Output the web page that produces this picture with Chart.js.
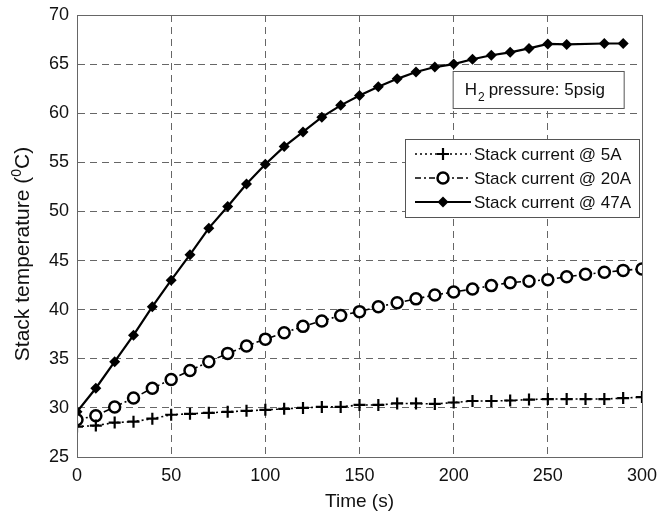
<!DOCTYPE html>
<html>
<head>
<meta charset="utf-8">
<script src="https://cdn.jsdelivr.net/npm/chart.js@4/dist/chart.umd.min.js"></script>
<style>
html, body { margin: 0; padding: 0; background: #fff; }
</style>
</head>
<body>
<canvas id="chart" width="659" height="513"></canvas>
<script>
// time (s) and stack temperature (deg C)
const time5A = [0,10,20,30,40,50,60,70,80,90,100,110,120,130,140,150,160,170,180,190,200,210,220,230,240,250,260,270,280,290,300];
const temp5A = [28.1,28.2,28.5,28.6,28.9,29.3,29.4,29.5,29.6,29.7,29.8,29.9,30.0,30.1,30.1,30.3,30.3,30.45,30.45,30.4,30.55,30.7,30.7,30.75,30.85,30.9,30.9,30.9,30.9,31.0,31.1];

const time20A = [0,10,20,30,40,50,60,70,80,90,100,110,120,130,140,150,160,170,180,190,200,210,220,230,240,250,260,270,280,290,300];
const temp20A = [28.8,29.2,30.1,31.0,32.0,32.9,33.8,34.7,35.55,36.3,37.0,37.65,38.3,38.85,39.4,39.8,40.3,40.7,41.1,41.5,41.8,42.1,42.45,42.75,42.9,43.05,43.35,43.6,43.8,44.0,44.15];

const time47A = [0,10,20,30,40,50,60,70,80,90,100,110,120,130,140,150,160,170,180,190,200,210,220,230,240,250,260,280,290];
const temp47A = [29.6,32.0,34.7,37.4,40.3,43.0,45.6,48.3,50.5,52.8,54.8,56.6,58.1,59.6,60.8,61.8,62.7,63.5,64.2,64.7,65.0,65.5,65.9,66.2,66.6,67.05,67.0,67.1,67.1];

const seriesLabels = ['Stack current @ 5A', 'Stack current @ 20A', 'Stack current @ 47A'];
const xTicks = [0, 50, 100, 150, 200, 250, 300];
const yTicks = [25, 30, 35, 40, 45, 50, 55, 60, 65, 70];

const FONT = '"Liberation Sans", Arial, sans-serif';

function toPoints(xs, ys) {
    return xs.map(function(x, i) { return { x: x, y: ys[i] }; });
}

// draw a marker the same way in the legend
function drawMarker(ctx, kind, x, y) {
    ctx.save();
    ctx.setLineDash([]);
    ctx.strokeStyle = '#000';
    ctx.fillStyle = '#000';
    if (kind === 'cross') {
        ctx.lineWidth = 2.2;
        ctx.beginPath();
        ctx.moveTo(x - 6, y); ctx.lineTo(x + 6, y);
        ctx.moveTo(x, y - 6); ctx.lineTo(x, y + 6);
        ctx.stroke();
    } else if (kind === 'circle') {
        ctx.lineWidth = 2.5;
        ctx.fillStyle = '#fff';
        ctx.beginPath();
        ctx.arc(x, y, 5.5, 0, Math.PI * 2);
        ctx.fill();
        ctx.stroke();
    } else {
        ctx.beginPath();
        ctx.moveTo(x, y - 5.5); ctx.lineTo(x + 5.5, y);
        ctx.lineTo(x, y + 5.5); ctx.lineTo(x - 5.5, y);
        ctx.closePath();
        ctx.fill();
    }
    ctx.restore();
}

const extras = {
    id: 'extras',
    afterDatasetsDraw: function(chart) {
        const ctx = chart.ctx;
        const a = chart.chartArea;
        const xs = chart.scales.x;
        const ys = chart.scales.y;

        // frame on top and right
        ctx.save();
        ctx.strokeStyle = '#666';
        ctx.lineWidth = 1;
        ctx.strokeRect(a.left + 0.5, a.top + 0.5, a.right - a.left, a.bottom - a.top);
        ctx.restore();

        // y axis title with superscript 0
        ctx.save();
        ctx.translate(29, 254);
        ctx.rotate(-Math.PI / 2);
        ctx.fillStyle = '#111';
        ctx.textBaseline = 'alphabetic';
        ctx.font = '21px ' + FONT;
        const p1 = 'Stack temperature (';
        const p2 = '0';
        const p3 = 'C)';
        const w1 = ctx.measureText(p1).width;
        const w3 = ctx.measureText(p3).width;
        ctx.font = '14px ' + FONT;
        const w2 = ctx.measureText(p2).width;
        let sx = -(w1 + w2 + w3) / 2;
        ctx.font = '21px ' + FONT;
        ctx.fillText(p1, sx, 0);
        ctx.font = '14px ' + FONT;
        ctx.fillText(p2, sx + w1, -8);
        ctx.font = '21px ' + FONT;
        ctx.fillText(p3, sx + w1 + w2, 0);
        ctx.restore();

        // H2 pressure box
        const bx = xs.getPixelForValue(200) - 1;
        const by = ys.getPixelForValue(64.3);
        ctx.save();
        ctx.fillStyle = '#fff';
        ctx.strokeStyle = '#555';
        ctx.lineWidth = 1;
        ctx.fillRect(bx, by, 171, 37);
        ctx.strokeRect(bx + 0.5, by + 0.5, 171, 37);
        ctx.fillStyle = '#111';
        ctx.textBaseline = 'alphabetic';
        ctx.font = '17px ' + FONT;
        ctx.fillText('H', bx + 12, by + 24);
        const hw = ctx.measureText('H').width;
        ctx.font = '12px ' + FONT;
        ctx.fillText('2', bx + 12 + hw + 1, by + 30);
        ctx.font = '17px ' + FONT;
        ctx.fillText(' pressure: 5psig', bx + 12 + hw + 7, by + 24);
        ctx.restore();

        // legend box
        const lx = 405, ly = 139, lw = 234, lh = 78;
        ctx.save();
        ctx.fillStyle = '#fff';
        ctx.strokeStyle = '#555';
        ctx.lineWidth = 1;
        ctx.fillRect(lx, ly, lw, lh);
        ctx.strokeRect(lx + 0.5, ly + 0.5, lw, lh);
        const kinds = ['cross', 'circle', 'diamond'];
        chart.data.datasets.forEach(function(ds, i) {
            const ry = ly + 15 + i * 24;
            ctx.save();
            ctx.strokeStyle = '#000';
            ctx.lineWidth = ds.borderWidth;
            ctx.setLineDash(ds.borderDash || []);
            ctx.beginPath();
            ctx.moveTo(lx + 10, ry);
            ctx.lineTo(lx + 66, ry);
            ctx.stroke();
            ctx.restore();
            drawMarker(ctx, kinds[i], lx + 38, ry);
            ctx.fillStyle = '#111';
            ctx.font = '17px ' + FONT;
            ctx.textBaseline = 'middle';
            ctx.fillText(ds.label, lx + 69, ry + 1);
        });
        ctx.restore();
    }
};

new Chart(document.getElementById('chart'), {
    type: 'line',
    data: {
        datasets: [{
            label: seriesLabels[0],
            data: toPoints(time5A, temp5A),
            borderColor: '#000',
            borderWidth: 1.6,
            borderDash: [2, 3],
            pointStyle: 'cross',
            pointRadius: 6,
            pointBorderWidth: 2.2,
            pointBorderColor: '#000',
            tension: 0
        }, {
            label: seriesLabels[1],
            data: toPoints(time20A, temp20A),
            borderColor: '#000',
            borderWidth: 1.6,
            borderDash: [6, 3, 2, 3],
            pointStyle: 'circle',
            pointRadius: 5.5,
            pointBorderWidth: 2.5,
            pointBackgroundColor: '#fff',
            pointBorderColor: '#000',
            tension: 0
        }, {
            label: seriesLabels[2],
            data: toPoints(time47A, temp47A),
            borderColor: '#000',
            borderWidth: 2.2,
            pointStyle: 'rectRot',
            pointRadius: 5.5,
            pointBorderWidth: 0,
            pointBackgroundColor: '#000',
            pointBorderColor: '#000',
            tension: 0
        }]
    },
    options: {
        responsive: false,
        animation: false,
        layout: { padding: { top: 15, right: 17, left: 0, bottom: 0 } },
        plugins: {
            legend: { display: false },
            tooltip: { enabled: false }
        },
        scales: {
            x: {
                type: 'linear',
                min: 0,
                max: 300,
                afterBuildTicks: function(scale) {
                    scale.ticks = xTicks.map(function(v) { return { value: v }; });
                },
                afterFit: function(scale) {
                    scale.height = 56;
                    scale.paddingLeft = 0;
                    scale.paddingRight = 0;
                },
                grid: { color: '#666', lineWidth: 1, drawTicks: false },
                border: { display: true, color: '#444', dash: [7, 5] },
                ticks: { color: '#111', padding: 8, font: { family: FONT, size: 18 } },
                title: {
                    display: true,
                    text: 'Time (s)',
                    color: '#111',
                    padding: { top: 2, bottom: 0 },
                    font: { family: FONT, size: 19 }
                }
            },
            y: {
                min: 25,
                max: 70,
                afterBuildTicks: function(scale) {
                    scale.ticks = yTicks.map(function(v) { return { value: v }; });
                },
                afterFit: function(scale) {
                    scale.width = 77;
                    scale.paddingTop = 0;
                    scale.paddingBottom = 0;
                },
                grid: { color: '#666', lineWidth: 1, drawTicks: false },
                border: { display: true, color: '#444', dash: [7, 5] },
                ticks: { color: '#111', padding: 8, font: { family: FONT, size: 18 } }
            }
        }
    },
    plugins: [extras]
});
</script>
</body>
</html>
